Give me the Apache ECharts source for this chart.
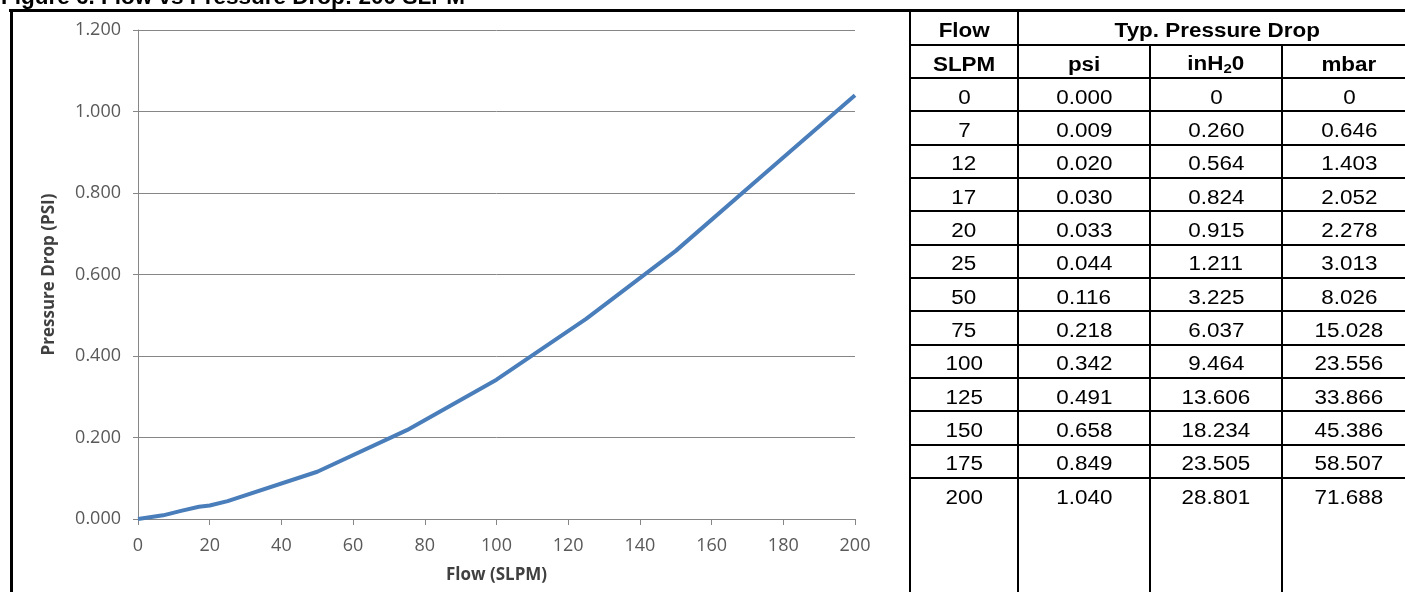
<!DOCTYPE html>
<html>
<head>
<meta charset="utf-8">
<script src="https://cdn.jsdelivr.net/npm/echarts@6/dist/echarts.min.js"></script>
<style>
  html, body { margin:0; padding:0; background:#fff; }
  #wrap { position:relative; width:1405px; height:592px; overflow:hidden; background:#fff; }
  #chart { position:absolute; left:0; top:0; width:1405px; height:592px; }
  .ln { position:absolute; background:#000; }
  .cell { position:absolute; display:flex; align-items:center; justify-content:center;
          font-family:"Liberation Sans", Arial, sans-serif; font-size:19.5px; color:#000; box-sizing:border-box; padding-top:5px; }
  .cell span { display:inline-block; transform:scaleX(1.15); white-space:nowrap; }
  .hdr { font-weight:bold; }
  #title { position:absolute; left:1px; top:-14px; font-family:"Liberation Sans", Arial, sans-serif;
           font-weight:bold; font-size:22.5px; line-height:22px; color:#000; white-space:nowrap; }
</style>
</head>
<body>
<div id="wrap">
  <div id="chart"></div>
  <div id="title">Figure 6. Flow vs Pressure Drop: 200 SLPM</div>
</div>
<script>
// ---- data ----
const flowSLPM = [0, 7, 12, 17, 20, 25, 50, 75, 100, 125, 150, 175, 200];
const psi      = [0.000, 0.009, 0.020, 0.030, 0.033, 0.044, 0.116, 0.218, 0.342, 0.491, 0.658, 0.849, 1.040];
const psiText  = ['0.000','0.009','0.020','0.030','0.033','0.044','0.116','0.218','0.342','0.491','0.658','0.849','1.040'];
const inH2O    = ['0','0.260','0.564','0.824','0.915','1.211','3.225','6.037','9.464','13.606','18.234','23.505','28.801'];
const mbar     = ['0','0.646','1.403','2.052','2.278','3.013','8.026','15.028','23.556','33.866','45.386','58.507','71.688'];
const headerTop = ['Flow', 'Typ. Pressure Drop'];
const headerSub = ['SLPM', 'psi', 'inH<sub style="font-size:13px;vertical-align:-3px">2</sub>0', 'mbar'];
const xTitle = 'Flow (SLPM)';
const yTitle = 'Pressure Drop (PSI)';

// ---- chart ----
const chart = echarts.init(document.getElementById('chart'), null, { renderer: 'canvas' });
const axisGray = '#868686';
const tickFont = { fontFamily: 'Open Sans', fontSize: 18, color: '#595959' };
const nameFont = { fontFamily: 'Open Sans', fontSize: 17, fontWeight: 'bold', color: '#404040' };
chart.setOption({
  animation: false,
  backgroundColor: 'transparent',
  grid: { left: 138, right: 550, top: 30, bottom: 73, containLabel: false },
  xAxis: {
    type: 'value', min: 0, max: 200, interval: 20,
    name: xTitle, nameLocation: 'middle', nameGap: 48, nameTextStyle: nameFont,
    axisLine: { show: true, lineStyle: { color: axisGray, width: 1 } },
    axisTick: { show: true, length: 6, lineStyle: { color: axisGray } },
    axisLabel: Object.assign({ margin: 18 }, tickFont),
    splitLine: { show: false }
  },
  yAxis: {
    type: 'value', min: 0, max: 1.2, interval: 0.2,
    name: yTitle, nameLocation: 'middle', nameGap: 80, nameRotate: 90, nameTextStyle: nameFont,
    axisLine: { show: true, lineStyle: { color: axisGray, width: 1 } },
    axisTick: { show: true, length: 5, lineStyle: { color: axisGray } },
    axisLabel: Object.assign({ margin: 17, formatter: v => v.toFixed(3) }, tickFont),
    splitLine: { show: true, lineStyle: { color: axisGray, width: 1 } }
  },
  series: [{
    type: 'line',
    data: flowSLPM.map((f, i) => [f, psi[i]]),
    symbol: 'none',
    smooth: false,
    lineStyle: { color: '#4A7EBB', width: 4 },
    z: 3
  }]
});

// ---- frame + table (HTML) ----
const wrap = document.getElementById('wrap');
function line(x, y, w, h) {
  const d = document.createElement('div');
  d.className = 'ln';
  d.style.left = x + 'px'; d.style.top = y + 'px';
  d.style.width = w + 'px'; d.style.height = h + 'px';
  wrap.appendChild(d);
}
function cell(x0, x1, y0, y1, html, cls) {
  const d = document.createElement('div');
  d.className = 'cell' + (cls ? ' ' + cls : '');
  d.style.left = x0 + 'px'; d.style.top = y0 + 'px';
  d.style.width = (x1 - x0) + 'px'; d.style.height = (y1 - y0) + 'px';
  d.innerHTML = '<span>' + html + '</span>';
  wrap.appendChild(d);
}
const W = 1405, H = 592;
const colX = [910, 1018, 1150, 1282, 1416];
const rowTop = 10, hdr1 = 45, hdr2 = 78, rowH = 33.33;

// outer frame
line(9, 9, W - 9, 3);        // top thick rule
line(10, 9, 2.5, H - 9);     // left border of chart box
// table verticals
line(colX[0] - 1, rowTop, 2, H - rowTop);
line(colX[1] - 1, rowTop, 2, H - rowTop);
line(colX[2] - 1, hdr1, 2, H - hdr1);
line(colX[3] - 1, hdr1, 2, H - hdr1);
// table horizontals
line(colX[0], hdr1 - 1, W - colX[0], 2);
for (let i = 0; i < flowSLPM.length; i++) {
  const y = hdr2 + i * rowH;
  line(colX[0], Math.round(y) - 1, W - colX[0], 2);
}

// header cells
cell(colX[0], colX[1], rowTop, hdr1, headerTop[0], 'hdr');
cell(colX[1], colX[4], rowTop, hdr1, headerTop[1], 'hdr');
for (let c = 0; c < 4; c++) cell(colX[c], colX[c + 1], hdr1, hdr2, headerSub[c], 'hdr');
// data cells
for (let i = 0; i < flowSLPM.length; i++) {
  const y0 = hdr2 + i * rowH, y1 = y0 + rowH;
  const vals = [String(flowSLPM[i]), psiText[i], inH2O[i], mbar[i]];
  for (let c = 0; c < 4; c++) cell(colX[c], colX[c + 1], y0, y1, vals[c]);
}
</script>
</body>
</html>
